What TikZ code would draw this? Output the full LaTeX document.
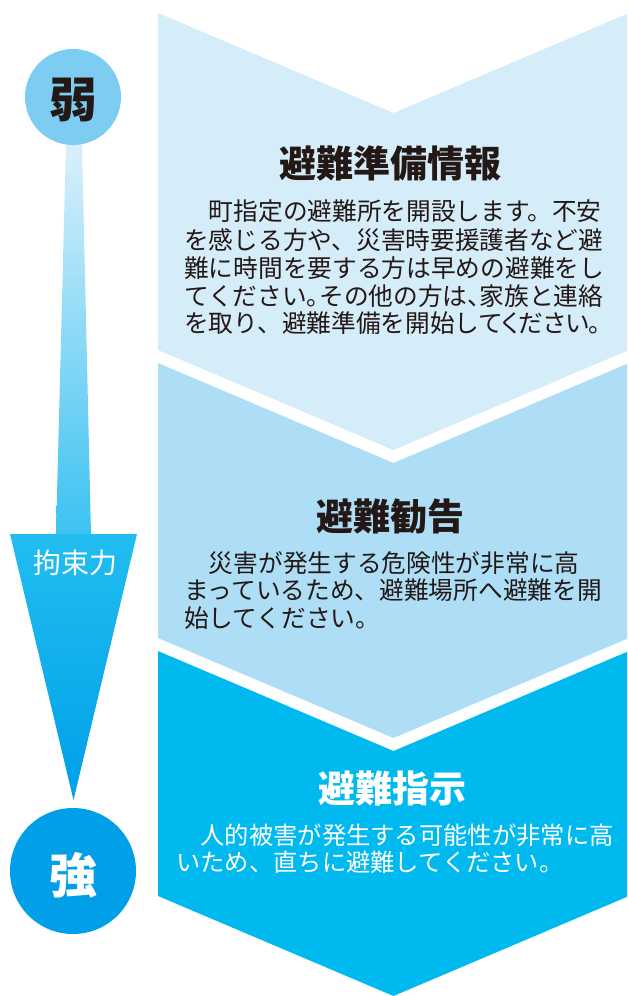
\documentclass[tikz,border=0pt]{standalone}
\usepackage{fontspec}
\newfontfamily\jp{Noto Sans CJK JP}
\definecolor{chevA}{HTML}{D5ECF9}
\definecolor{chevB}{HTML}{ADDEF6}
\definecolor{chevC}{HTML}{00BAEF}
\definecolor{weakc}{HTML}{7DCDF3}
\definecolor{strongc}{HTML}{009FE8}
\definecolor{ink}{HTML}{231815}
\definecolor{shaftTop}{HTML}{E3F3FC}
\definecolor{shaftBot}{HTML}{3CC2F1}
\definecolor{headTop}{HTML}{22BDF0}
\definecolor{headBot}{HTML}{00A0E9}
\newcommand\halfpunct[1]{\makebox[0.5em][l]{#1}}
\newcommand\propkana[1]{{\addfontfeature{RawFeature=+palt}#1}}
\begin{document}
\begin{tikzpicture}[x=1pt,y=-1pt,
  chev/.style={fill=#1, draw=none},
  body/.style={font=\jp\fontsize{24.7}{30}\selectfont, text=ink, inner sep=0pt, anchor=west, text height=21.7pt, text depth=3pt},
  bodyw/.style={font=\jp\fontsize{24.3}{30}\selectfont, text=white, inner sep=0pt, anchor=west, text height=21.4pt, text depth=2.9pt},
  title/.style={font=\jp\bfseries\fontsize{37}{40}\selectfont, text=ink, inner sep=0pt, anchor=center, text height=32.6pt, text depth=4.4pt},
  badge/.style={font=\jp\bfseries\fontsize{48}{50}\selectfont, inner sep=0pt, anchor=center, text height=42pt, text depth=6pt},
  forcelabel/.style={font=\jp\fontsize{28}{30}\selectfont, text=white, inner sep=0pt, anchor=center, text height=24.6pt, text depth=3.4pt}
]
\useasboundingbox (0,0) rectangle (627,996);
\clip (0,0) rectangle (627,996);
% chevrons
\path[chev=chevA] (158,13) -- (393.5,113) -- (629,13) -- (629,350) -- (393.5,450) -- (158,350) -- cycle;
\path[chev=chevB] (158,363) -- (393.5,463) -- (629,363) -- (629,638) -- (393.5,738) -- (158,638) -- cycle;
\path[chev=chevC] (158,651) -- (393.5,751) -- (629,651) -- (629,896) -- (393.5,996) -- (158,896) -- cycle;
% strength arrow
\shade[top color=shaftTop, bottom color=shaftBot] (66.6,120) -- (81.4,120) -- (91,535) -- (56,535) -- cycle;
\shade[top color=headTop, bottom color=headBot] (10,534) -- (137,534) -- (73.5,800) -- cycle;
\node[circle, fill=weakc, minimum size=96pt, inner sep=0pt] (weak) at (73,97) {};
\node[circle, fill=strongc, minimum size=126pt, inner sep=0pt] (strong) at (73,871) {};
\node[badge, text=ink] (weaktxt) at (73,99) {弱};
\node[badge, text=white] (strongtxt) at (73,875) {強};
\node[forcelabel] (force) at (75,563) {拘束力};
% titles
\node[title] (t1) at (390,163) {避難準備情報};
\node[title] (t2) at (390,516) {避難勧告};
\node[title, text=white] (t3) at (392,788) {避難指示};
% body 1
\node[body] (a1) at (184,211.5) {　町指定の避難所を開設します。不安};
\node[body] (a2) at (184,240) {を感じる方や、災害時要援護者など避};
\node[body] (a3) at (184,268.5) {難に時間を要する方は早めの避難をし};
\node[body] (a4) at (184,296.5) {てください\halfpunct{。}その他の方は\halfpunct{、}家族と連絡};
\node[body] (a5) at (184,323.5) {を取り、避難準備を開始し\propkana{てください}。};
% body 2
\node[body] (b1) at (184,563) {　災害が発生する危険性が非常に高};
\node[body] (b2) at (184,590.5) {まっているため、避難場所へ避難を開};
\node[body] (b3) at (184,618) {始してください。};
% body 3
\node[bodyw] (c1) at (176,835) {　人的被害が発生する可能性が非常に高};
\node[bodyw] (c2) at (176,862) {いため、直ちに避難してください。};
\end{tikzpicture}
\end{document}
